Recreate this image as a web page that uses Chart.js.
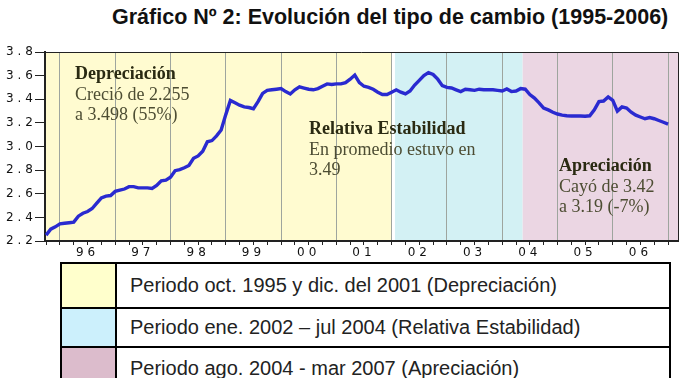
<!DOCTYPE html>
<html><head><meta charset="utf-8">
<script src="https://cdn.jsdelivr.net/npm/chart.js@4/dist/chart.umd.min.js"></script>
<style>
html,body{margin:0;padding:0;background:#fff}
body{width:685px;height:378px;overflow:hidden;position:relative;font-family:"Liberation Sans",Arial,sans-serif}
#title{position:absolute;left:112px;top:5px;font-weight:bold;font-size:21.5px;color:#111;white-space:nowrap;letter-spacing:0}
#wrap{position:absolute;left:0;top:0;width:685px;height:262px}
.ann{position:absolute;font-family:"Liberation Serif","Times New Roman",serif;font-size:18px;line-height:20.6px;color:#4d4d33;white-space:nowrap}
.ann b{color:#2a2a12}
#leg{position:absolute;left:60px;top:262px;width:611px;border:2px solid #000;border-bottom:none;box-sizing:border-box;background:#fff}
.row{display:flex;align-items:stretch;border-bottom:2px solid #000}
.sw{width:53px;border-right:2px solid #000}
.tx{padding-left:13px;font-size:20px;color:#222;display:flex;align-items:center;white-space:nowrap}
</style></head>
<body>
<div id="title">Gráfico Nº 2: Evolución del tipo de cambio (1995-2006)</div>
<div id="wrap"><canvas id="c" width="685" height="262"></canvas></div>
<div class="ann" style="left:75px;top:63px"><b>Depreciación</b><br>Creció de 2.255<br>a 3.498 (55%)</div>
<div class="ann" style="left:309px;top:118px"><b>Relativa Estabilidad</b><br>En promedio estuvo en<br>3.49</div>
<div class="ann" style="left:559px;top:155px"><b>Apreciación</b><br>Cayó de 3.42<br>a 3.19 (-7%)</div>
<div id="leg">
  <div class="row" style="height:43px"><div class="sw" style="background:#ffffcc"></div><div class="tx">Periodo oct. 1995 y dic. del 2001 (Depreciación)</div></div>
  <div class="row" style="height:37px"><div class="sw" style="background:#ccf0fc"></div><div class="tx">Periodo ene. 2002 – jul 2004 (Relativa Estabilidad)</div></div>
  <div class="row" style="height:40px;border-bottom:none"><div class="sw" style="background:#dcbccc"></div><div class="tx">Periodo ago. 2004 - mar 2007 (Apreciación)</div></div>
</div>
<script>
// Monthly exchange rate, Oct 1995 .. Jan 2007
const rate1995 = [2.25, 2.30, 2.32];
const rate1996 = [2.345, 2.35, 2.355, 2.36, 2.41, 2.435, 2.45, 2.475, 2.52, 2.565, 2.58, 2.585];
const rate1997 = [2.62, 2.63, 2.64, 2.66, 2.66, 2.65, 2.65, 2.65, 2.645, 2.67, 2.71, 2.715];
const rate1998 = [2.74, 2.795, 2.805, 2.82, 2.84, 2.90, 2.92, 2.96, 3.04, 3.05, 3.09, 3.14];
const rate1999 = [3.27, 3.39, 3.37, 3.35, 3.335, 3.33, 3.32, 3.38, 3.45, 3.475, 3.48, 3.485];
const rate2000 = [3.49, 3.465, 3.445, 3.48, 3.505, 3.495, 3.485, 3.48, 3.49, 3.51, 3.53, 3.525];
const rate2001 = [3.53, 3.53, 3.54, 3.57, 3.605, 3.54, 3.51, 3.50, 3.485, 3.46, 3.44, 3.44];
const rate2002 = [3.46, 3.48, 3.46, 3.445, 3.47, 3.52, 3.56, 3.60, 3.625, 3.61, 3.57, 3.515];
const rate2003 = [3.50, 3.495, 3.48, 3.465, 3.485, 3.48, 3.475, 3.485, 3.48, 3.48, 3.48, 3.475];
const rate2004 = [3.47, 3.487, 3.465, 3.47, 3.49, 3.485, 3.44, 3.41, 3.37, 3.325, 3.31, 3.29];
const rate2005 = [3.275, 3.265, 3.26, 3.258, 3.258, 3.258, 3.256, 3.26, 3.31, 3.38, 3.385, 3.42];
const rate2006 = [3.39, 3.30, 3.335, 3.325, 3.29, 3.265, 3.25, 3.235, 3.245, 3.235, 3.22, 3.205];
const rate2007 = [3.19];
const rates = [].concat(rate1995, rate1996, rate1997, rate1998, rate1999, rate2000, rate2001,
  rate2002, rate2003, rate2004, rate2005, rate2006, rate2007);
const firstMonth = 1995 + 9/12; // Oct 1995

const yearLabels = ['96','97','98','99','00','01','02','03','04','05','06'];
const yearStart = 1996;
const yTicks = [2.2, 2.4, 2.6, 2.8, 3.0, 3.2, 3.4, 3.6, 3.8];

// Shaded periods [start, end, colour]
const periodStarts = [1995.70, 2002.06, 2004.37];
const periodEnds   = [2002.00, 2004.37, 2007.30];
const periodColors = ['#fffbd0', '#d3f1f4', '#ebd6e3'];

const points = rates.map((v, i) => ({x: firstMonth + i/12, y: v}));

const xTickVals = [];
for (let q = 0; q <= 45; q++) xTickVals.push(1995.75 + q * 0.25);

const isYear = v => Math.abs(v - Math.round(v)) < 0.001;

const bands = {
  id: 'bands',
  beforeDraw(chart) {
    const {ctx, chartArea: a, scales: {x}} = chart;
    ctx.save();
    for (let i = 0; i < periodStarts.length; i++) {
      const l = Math.max(a.left, x.getPixelForValue(periodStarts[i]));
      const r = Math.min(a.right, x.getPixelForValue(periodEnds[i]));
      ctx.fillStyle = periodColors[i];
      ctx.fillRect(l, a.top, r - l, a.bottom - a.top);
    }
    ctx.restore();
    ctx.letterSpacing = '4px';
  },
  afterDraw(chart) {
    const {ctx, chartArea: a} = chart;
    ctx.save();
    ctx.strokeStyle = '#222';
    ctx.lineWidth = 1;
    ctx.beginPath();
    ctx.moveTo(a.left, a.top + 0.5); ctx.lineTo(a.right + 0.5, a.top + 0.5);
    ctx.lineTo(a.right + 0.5, a.bottom);
    ctx.stroke();
    ctx.restore();
  }
};

new Chart(document.getElementById('c'), {
  type: 'line',
  data: { datasets: [{
    data: points, borderColor: '#2a2ad0', borderWidth: 3.4, pointRadius: 0,
    tension: 0, fill: false
  }]},
  options: {
    responsive: false, animation: false,
    layout: { padding: { top: 52, right: 7, left: 0, bottom: 0 } },
    plugins: { legend: {display: false}, tooltip: {enabled: false}, title: {display: false} },
    scales: {
      x: {
        type: 'linear', min: 1995.73, max: 2007.18,
        afterBuildTicks: s => { s.ticks = xTickVals.map(v => ({value: v})); },
        afterFit: s => { s.height = 21; },
        grid: {
          drawOnChartArea: true, drawTicks: true, tickLength: 4,
          color: c => (c.tick && isYear(c.tick.value)) ? '#9ea59e' : 'rgba(0,0,0,0)',
          tickColor: '#222', lineWidth: 1
        },
        border: { display: true, color: '#222', width: 2 },
        ticks: {
          autoSkip: false, maxRotation: 0, padding: 1,
          font: { family: 'DejaVu Sans', size: 12 }, color: '#111',
          callback: v => {
            const fr = v - Math.floor(v);
            if (Math.abs(fr - 0.5) < 0.001) {
              const idx = Math.floor(v) - yearStart;
              return yearLabels[idx] !== undefined ? yearLabels[idx] : '';
            }
            return '';
          }
        }
      },
      y: {
        min: 2.2, max: 3.8,
        afterBuildTicks: s => { s.ticks = yTicks.map(v => ({value: v})); },
        afterFit: s => { s.width = 45; },
        grid: { drawOnChartArea: false, drawTicks: true, tickLength: 10, tickColor: '#222' },
        border: { display: true, color: '#222', width: 2 },
        ticks: {
          padding: -2, font: { family: 'DejaVu Sans', size: 12 }, color: '#111',
          callback: v => v.toFixed(1)
        }
      }
    }
  },
  plugins: [bands]
});
</script>
</body></html>
